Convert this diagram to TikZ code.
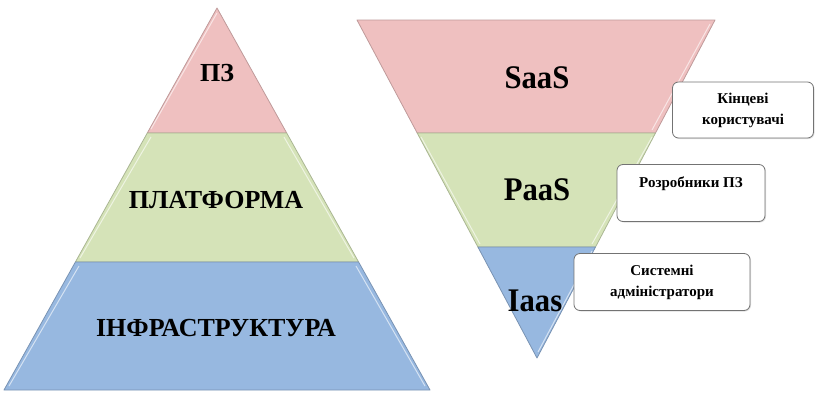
\documentclass[tikz,border=0pt]{standalone}
\usepackage{fontspec}
\setmainfont{Liberation Serif}
\usetikzlibrary{shadows}
\definecolor{pinkband}{HTML}{EFC0C0}
\definecolor{greenband}{HTML}{D5E3B8}
\definecolor{blueband}{HTML}{97B8E0}
\tikzset{
  band/.style={line width=0.8pt, line join=round},
  pinkb/.style={band, fill=pinkband, draw=pinkband!80!black},
  greenb/.style={band, fill=greenband, draw=greenband!80!black},
  blueb/.style={band, fill=blueband, draw=blueband!80!black},
  hl/.style={white, opacity=0.6, line width=1pt},
  biglabel/.style={font=\bfseries\fontsize{26}{29}\selectfont, inner sep=0pt},
  xlabel/.style={font=\bfseries\fontsize{33}{36}\selectfont, inner sep=0pt, xscale=0.93},
  rolebox/.style={draw=black!55, fill=white, rounded corners=6pt, line width=0.8pt,
     drop shadow={shadow xshift=1pt, shadow yshift=-1pt, opacity=0.25},
     align=center, font=\bfseries\fontsize{15}{21}\selectfont, inner sep=2pt}
}
\begin{document}
\begin{tikzpicture}[x=1pt,y=-1pt]
\useasboundingbox (0,0) rectangle (815,394);
% left pyramid
\path[pinkb] (217,8) -- (286.7,133) -- (147.3,133) -- cycle;
\path[greenb] (147.3,133) -- (286.7,133) -- (358.6,262) -- (75.4,262) -- cycle;
\path[blueb] (75.4,262) -- (358.6,262) -- (430,390) -- (4,390) -- cycle;
\draw[hl] (217,13) -- (151,129);
\draw[hl] (151,137) -- (80,258);
\draw[hl] (79,266) -- (9,386);
\draw[hl] (284,137) -- (354,258);
\draw[hl] (356,266) -- (425,386);
% right inverted triangle
\path[pinkb] (357,20) -- (715,20) -- (655.5,133) -- (417.2,133) -- cycle;
\path[greenb] (417.2,133) -- (655.5,133) -- (595.5,247) -- (477.9,247) -- cycle;
\path[blueb] (477.9,247) -- (595.5,247) -- (537,358) -- cycle;
\draw[hl] (710,24) -- (652,130);
\draw[hl] (652,137) -- (592,244);
\draw[hl] (592,251) -- (538,352);
\draw[hl] (421,137) -- (480,244);
% labels
\node[biglabel] (pz) at (217,73) {ПЗ};
\node[biglabel] (plat) at (216,200) {ПЛАТФОРМА};
\node[biglabel] (infra) at (216,328) {ІНФРАСТРУКТУРА};
\node[xlabel] (saas) at (537,78) {SaaS};
\node[xlabel] (paas) at (537,190) {PaaS};
\node[xlabel] (iaas) at (535,301) {Iaas};
% role boxes
\node[rolebox, minimum width=141pt, minimum height=56pt] (users) at (743,110) {Кінцеві\\користувачі};
\node[rolebox, minimum width=148pt, minimum height=57pt, text depth=22pt] (devs) at (691,193) {Розробники ПЗ};
\node[rolebox, minimum width=176pt, minimum height=57pt] (admins) at (662,282) {Системні\\адміністратори};
\end{tikzpicture}
\end{document}
